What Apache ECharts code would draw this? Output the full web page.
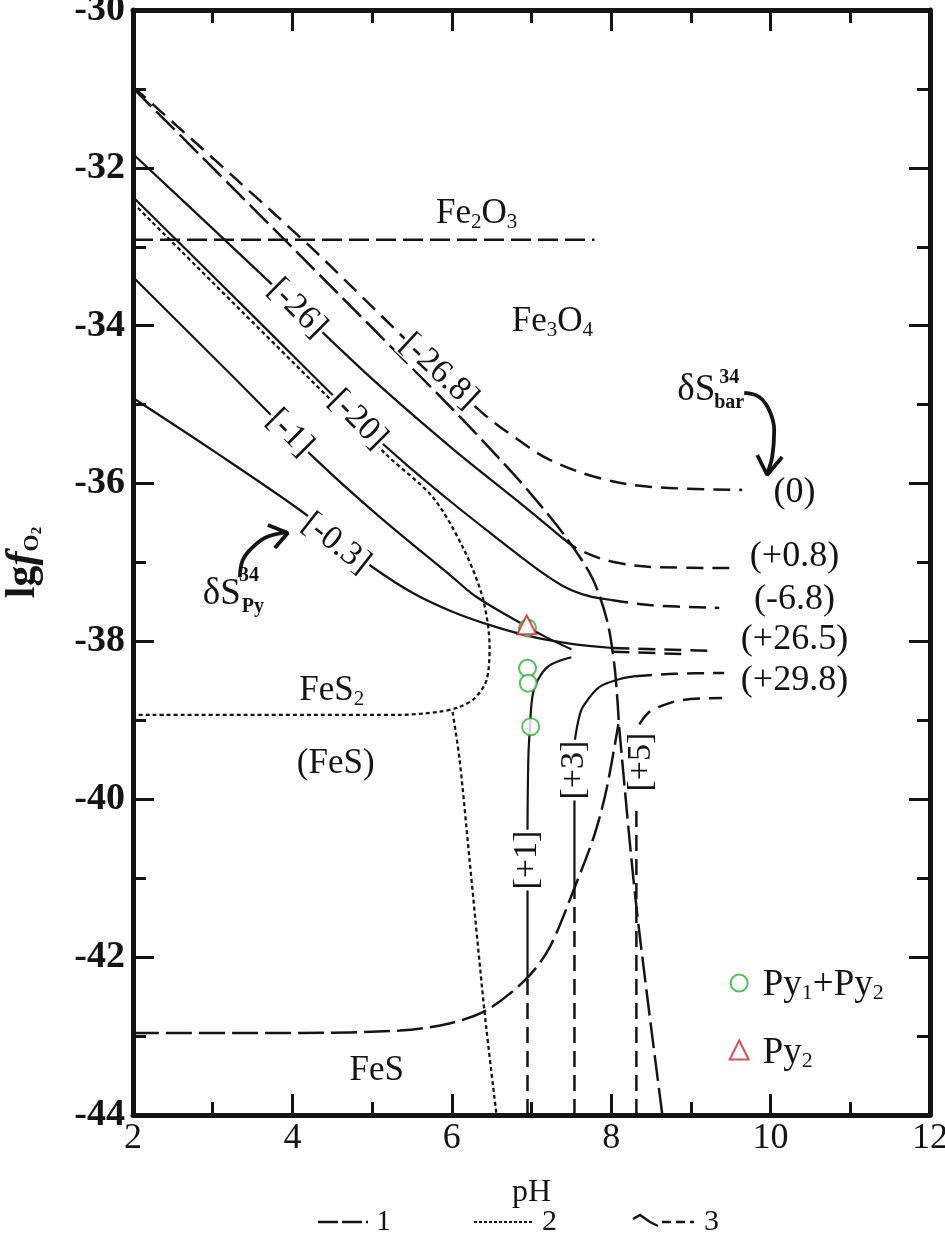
<!DOCTYPE html>
<html>
<head>
<meta charset="utf-8">
<script src="https://cdn.jsdelivr.net/npm/echarts@6/dist/echarts.min.js"></script>
<style>html,body{margin:0;padding:0;background:#fff}#c{width:945px;height:1235px}</style>
</head>
<body>
<div id="c"></div>
<script>
// ---------------- DATA (pH, lg fO2) ----------------
const xTickValues = [2, 4, 6, 8, 10, 12];
const yTickValues = [-30, -32, -34, -36, -38, -40, -42, -44];

// type 1 (long dash) mineral boundaries
const hematiteMagnetite = [[2.0, -32.91], [7.79, -32.91]];
const magnetitePyrite = [[2.0, -30.99], [4.0, -33.01], [5.935, -34.98], [6.474, -35.55], [6.975, -36.11], [7.439, -36.69], [7.764, -37.20], [7.952, -37.75], [8.04, -38.30], [8.078, -38.74], [8.103, -39.12], [8.316, -41.36], [8.642, -44.0]];
const pyrrhotiteLower = [[2.0, -42.96], [4.09, -42.96], [5.35, -42.93], [5.97, -42.84], [6.44, -42.67], [6.94, -42.27], [7.226, -41.88], [7.54, -41.12], [7.79, -40.45], [7.94, -39.88], [8.09, -39.05]];

// type 2 (dotted) boundaries
const pyriteField = [[2.0, -32.445], [5.183, -35.638], [5.759, -36.17], [6.135, -36.80], [6.386, -37.44], [6.474, -38.07], [6.436, -38.49], [6.286, -38.72], [6.097, -38.83], [5.847, -38.89], [5.346, -38.93], [2.0, -38.93]];
const pyrrhotiteField = [[6.01, -38.894], [6.098, -39.502], [6.223, -40.769], [6.411, -42.695], [6.561, -44.0]];

// type 3 isolines: solid part / dashed part
const iso268Dash = [[2.0, -30.97], [4.13, -32.91], [4.88, -33.64], [5.85, -34.60], [6.39, -35.11], [6.81, -35.43], [7.23, -35.70], [7.85, -35.93], [8.48, -36.04], [9.644, -36.08]];
const iso26Solid = [[2.0, -31.824], [3.0, -32.77], [4.0, -33.72], [5.0, -34.674], [6.0, -35.55], [6.8, -36.20], [7.389, -36.69]];
const iso26Dash = [[7.389, -36.69], [7.60, -36.84], [8.015, -36.99], [8.60, -37.06], [9.58, -37.07]];
const iso20Solid = [[2.0, -32.369], [3.5, -33.869], [5.0, -35.369], [5.5, -35.82], [6.0, -36.24], [6.5, -36.64], [7.0, -37.03], [7.4, -37.30], [7.7, -37.42], [8.0, -37.475]];
const iso20Dash = [[8.0, -37.475], [8.479, -37.54], [9.356, -37.576]];
const iso1Solid = [[2.0, -33.383], [3.2, -34.59], [4.3, -35.70], [5.095, -36.423], [6.0, -37.178], [6.311, -37.437], [6.95, -37.817], [7.2, -37.955], [7.5, -38.10]];
const iso03Solid = [[2.0, -34.916], [3.0, -35.58], [4.093, -36.335], [4.6, -36.74], [5.008, -37.06], [5.5, -37.38], [6.0, -37.62], [6.5, -37.80], [7.0, -37.94], [7.5, -38.03], [8.015, -38.083]];
const iso03DashA = [[8.015, -38.083], [9.256, -38.121]];
const iso03DashB = [[8.015, -38.13], [8.93, -38.16]];
const isoP1Dash = [[6.95, -44.0], [6.95, -42.264]];
const isoP1Solid = [[6.95, -42.264], [6.95, -40.5], [6.96, -39.5], [6.98, -39.1], [7.02, -38.65], [7.12, -38.42], [7.25, -38.29], [7.50, -38.20]];
const isoP3Dash = [[7.539, -44.0], [7.539, -41.124]];
const isoP3Solid = [[7.539, -41.124], [7.539, -39.35], [7.55, -39.21], [7.60, -38.95], [7.65, -38.82], [7.85, -38.58], [8.10, -38.48], [8.30, -38.44]];
const isoP3Dash2 = [[8.30, -38.44], [8.80, -38.41], [9.418, -38.40]];
const isoP5DashLow = [[8.316, -44.0], [8.316, -40.10]];
const isoP5DashUp = [[8.353, -39.05], [8.45, -38.92], [8.566, -38.843], [8.892, -38.742], [9.393, -38.717]];

// arrows
const arrowBarCurve = [[9.669, -34.852], [9.857, -34.903], [9.982, -35.068], [10.045, -35.321], [10.02, -35.663], [9.957, -35.866]];
const arrowBarHead = [[9.832, -35.638], [9.957, -35.891], [10.145, -35.663]];
const arrowPyCurve = [[3.341, -37.184], [3.378, -36.968], [3.504, -36.804], [3.679, -36.677], [3.93, -36.614]];
const arrowPyHead = [[3.692, -36.525], [3.942, -36.626], [3.779, -36.816]];

// samples
const py1py2 = [[6.95, -37.83], [6.95, -38.34], [6.96, -38.53], [6.99, -39.08]];
const py2 = [[6.94, -37.79]];
const legendCircleAt = [[9.606, -42.327]];
const legendTriangleAt = [[9.606, -43.176]];

// text labels
const pyLabelText = ['[-26.8]', '[-26]', '[-20]', '[-1]', '[-0.3]', '[+1]', '[+3]', '[+5]'];
const pyLabelAt = [[5.84, -34.58], [4.06, -33.78], [4.82, -35.19], [3.967, -35.36], [4.55, -36.76], [6.95, -40.77], [7.54, -39.63], [8.37, -39.53]];
const barLabelText = ['(0)', '(+0.8)', '(-6.8)', '(+26.5)', '(+29.8)'];
const barLabelAt = [[10.30, -36.12], [10.30, -36.93], [10.30, -37.47], [10.30, -37.98], [10.30, -38.49]];
const regionText = ['Fe{s|2}O{s|3}', 'Fe{s|3}O{s|4}', 'FeS{s|2}', '(FeS)', 'FeS'];
const regionAt = [[6.311, -32.585], [7.263, -33.953], [4.494, -38.628], [4.544, -39.553], [5.058, -43.442]];
const deltaText = ['δS', '34', 'bar', 'δS', '34', 'Py'];
const deltaAt = [[9.068, -34.814], [9.481, -34.662], [9.481, -34.979], [3.115, -37.399], [3.454, -37.171], [3.504, -37.564]];
const legendText = ['Py{s|1}+Py{s|2}', 'Py{s|2}'];
const legendTextAt = [[9.895, -42.353], [9.895, -43.214]];

// ---------------- STYLES ----------------
const INK = '#141414';
const SERIF = '"Liberation Serif","Times New Roman",serif';
const pyRot = [-43, -45, -45, -45, -38, 90, 90, 90];
const pyBg = [true, true, true, true, true, true, true, false];
const deltaStyle = ['d', 'sup', 'subb', 'd', 'sup', 'subb'];
const lineSolid = {color: INK, width: 2.2, type: 'solid'};
const lineLong = {color: INK, width: 2.5, type: [26, 7]};
const lineFe2O3 = {color: INK, width: 2.4, type: [20, 7]};
const lineDot = {color: INK, width: 2.3, type: [4, 3]};
const lineDash = {color: INK, width: 2.5, type: [17, 9]};
const lineVert = {color: INK, width: 2.5, type: [16, 8]};
const lineArrow = {color: INK, width: 3.8, type: 'solid'};
const HIDDEN = {color: 'rgba(0,0,0,0)', borderWidth: 0};
const NOB = {textBorderWidth: 0, textBorderColor: 'transparent', textShadowBlur: 0, opacity: 1};

function tok(o) { return Object.assign({color: INK, fontFamily: SERIF}, NOB, o); }
const richBase = {
  n: tok({fontSize: 35}),
  s: tok({fontSize: 21, padding: [16, 0, 0, 0]}),
  l: tok({fontSize: 37}),
  ls: tok({fontSize: 22, padding: [17, 0, 0, 0]}),
  d: tok({fontSize: 37}),
  sup: tok({fontSize: 20, fontWeight: 'bold'}),
  subb: tok({fontSize: 20, fontWeight: 'bold'})
};

function line(data, style, smooth, z) {
  return {type: 'line', data: data, symbol: 'none', showSymbol: false, smooth: smooth === undefined ? 0.35 : smooth,
    lineStyle: style, z: z || 2, silent: true, animation: false, clip: true};
}
function textSeries(points, makeLabel, z, pos) {
  return {type: 'scatter', symbolSize: 1, itemStyle: HIDDEN, z: z || 10, silent: true, animation: false,
    data: points.map(function (p, i) { return {value: p, label: Object.assign({}, NOB, makeLabel(i))}; }),
    label: Object.assign({show: true, position: pos || 'inside', distance: 0, color: INK}, NOB)};
}
function richify(t, a, b) { return '{' + a + '|' + t.replace(/\{s\|(\d)\}/g, '}{' + b + '|$1}{' + a + '|') + '}'; }

const series = [
  line(hematiteMagnetite, lineFe2O3, false),
  line(magnetitePyrite, lineLong, 0.3),
  line(pyrrhotiteLower, lineLong, 0.3),
  line(pyriteField, lineDot, 0.3),
  line(pyrrhotiteField, lineDot, 0.3),
  line(iso268Dash, lineDash, 0.35),
  line(iso26Solid, lineSolid), line(iso26Dash, lineDash),
  line(iso20Solid, lineSolid), line(iso20Dash, lineDash),
  line(iso1Solid, lineSolid),
  line(iso03Solid, lineSolid), line(iso03DashA, lineDash, false), line(iso03DashB, lineDash, false),
  line(isoP1Dash, lineVert, false), line(isoP1Solid, lineSolid),
  line(isoP3Dash, lineVert, false), line(isoP3Solid, lineSolid), line(isoP3Dash2, lineDash),
  line(isoP5DashLow, lineVert, false), line(isoP5DashUp, lineDash),
  line(arrowBarCurve, lineArrow, 0.4, 6), line(arrowBarHead, lineArrow, false, 6),
  line(arrowPyCurve, lineArrow, 0.4, 6), line(arrowPyHead, lineArrow, false, 6),
  {type: 'scatter', data: py1py2.concat(legendCircleAt), symbol: 'emptyCircle', symbolSize: 17, z: 12, silent: true, animation: false,
    itemStyle: {color: '#2fae3c', borderWidth: 2.4}},
  {type: 'scatter', data: py2.concat(legendTriangleAt), symbol: 'emptyTriangle', symbolSize: 19, z: 13, silent: true, animation: false,
    itemStyle: {color: '#c8252d', borderWidth: 3.4}},
  textSeries(pyLabelAt, function (i) {
    return {formatter: pyLabelText[i], rotate: pyRot[i], fontFamily: SERIF, fontSize: 34, color: INK, lineHeight: 30,
      backgroundColor: pyBg[i] ? '#fff' : 'transparent', padding: [0, 1]};
  }, 20),
  textSeries(barLabelAt, function (i) {
    return {formatter: barLabelText[i], fontFamily: SERIF, fontSize: 36, color: INK};
  }),
  textSeries(regionAt, function (i) {
    return {formatter: richify(regionText[i], 'n', 's'), rich: richBase};
  }),
  textSeries(deltaAt, function (i) {
    return {formatter: '{' + deltaStyle[i] + '|' + deltaText[i] + '}', rich: richBase};
  }),
  textSeries(legendTextAt, function (i) {
    return {formatter: richify(legendText[i], 'l', 'ls'), rich: richBase, align: 'left'};
  }, 10, 'right')
];

function axisCommon(pos, showLabel, isX) {
  return {
    type: 'value', position: pos,
    min: isX ? 2 : -44, max: isX ? 12 : -30, interval: 2,
    axisLine: {show: true, onZero: false, lineStyle: {color: INK, width: 5}},
    axisTick: {show: true, inside: true, length: 21, lineStyle: {color: INK, width: 3}},
    minorTick: {show: true, splitNumber: 2, length: 13, lineStyle: {color: INK, width: 3}},
    splitLine: {show: false}, minorSplitLine: {show: false},
    axisLabel: showLabel ? (isX ? {
      fontFamily: SERIF, fontSize: 36, color: INK, margin: 6,
      formatter: function (v) { return xTickValues.indexOf(v) >= 0 ? String(v) : ''; }
    } : {
      fontFamily: SERIF, fontSize: 38, fontWeight: 'bold', color: INK, margin: 8,
      formatter: function (v) { return yTickValues.indexOf(v) >= 0 ? String(v) : ''; }
    }) : {show: false}
  };
}

const xBottom = axisCommon('bottom', true, true);
xBottom.name = 'pH';
xBottom.nameLocation = 'middle';
xBottom.nameGap = 62;
xBottom.nameTextStyle = {fontFamily: SERIF, fontSize: 32, color: INK};
const yLeft = axisCommon('left', true, false);
yLeft.name = '{a|lg}{f|f}{o|O}{t|2}';
yLeft.nameLocation = 'middle';
yLeft.nameRotate = 90;
yLeft.nameGap = 88;
yLeft.nameTextStyle = {rich: {
  a: {fontFamily: SERIF, fontSize: 42, fontWeight: 'bold', color: INK},
  f: {fontFamily: SERIF, fontSize: 42, fontWeight: 'bold', fontStyle: 'italic', color: INK},
  o: {fontFamily: SERIF, fontSize: 22, fontWeight: 'bold', color: INK, padding: [18, 0, 0, 0]},
  t: {fontFamily: SERIF, fontSize: 15, fontWeight: 'bold', color: INK, padding: [28, 0, 0, 0]}
}};

const chart = echarts.init(document.getElementById('c'), null, {renderer: 'canvas'});
chart.setOption({
  animation: false,
  backgroundColor: '#fff',
  grid: {left: 133, right: 15, top: 10, bottom: 120, containLabel: false, outerBoundsMode: 'none'},
  xAxis: [xBottom, axisCommon('top', false, true)],
  yAxis: [yLeft, axisCommon('right', false, false)],
  series: series,
  graphic: [
    {type: 'polyline', shape: {points: [[318, 1222], [368, 1222]]}, style: {stroke: INK, lineWidth: 2.5, lineDash: [20, 4], fill: null}},
    {type: 'text', x: 376, y: 1222, style: {text: '1', font: '30px ' + SERIF, fill: INK, verticalAlign: 'middle'}},
    {type: 'polyline', shape: {points: [[474, 1222], [532, 1222]]}, style: {stroke: INK, lineWidth: 2.2, lineDash: [3, 2], fill: null}},
    {type: 'text', x: 542, y: 1222, style: {text: '2', font: '30px ' + SERIF, fill: INK, verticalAlign: 'middle'}},
    {type: 'polyline', shape: {points: [[633, 1219], [640, 1215], [650, 1222], [658, 1226]]}, style: {stroke: INK, lineWidth: 2.5, fill: null}},
    {type: 'polyline', shape: {points: [[662, 1222], [694, 1222]]}, style: {stroke: INK, lineWidth: 2.5, lineDash: [9, 5], fill: null}},
    {type: 'text', x: 704, y: 1222, style: {text: '3', font: '30px ' + SERIF, fill: INK, verticalAlign: 'middle'}}
  ]
});
</script>
</body>
</html>
